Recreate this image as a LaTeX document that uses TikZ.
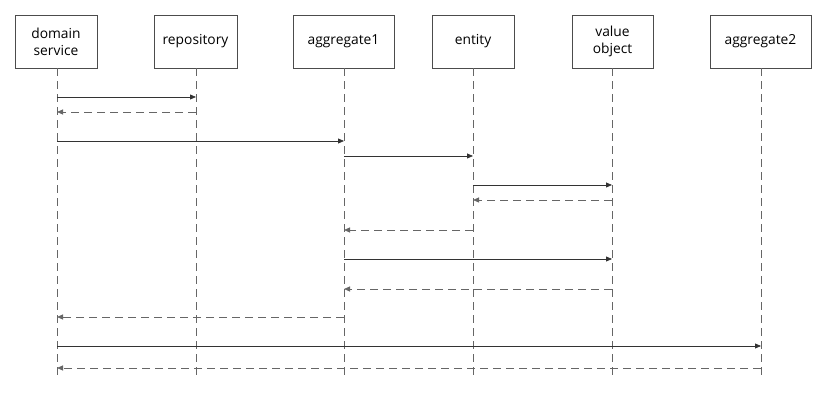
\documentclass[tikz,border=0pt]{standalone}
\usepackage{fontspec}
\setmainfont{Open Sans}
\usetikzlibrary{arrows.meta}
\begin{document}
\begin{tikzpicture}[x=1pt,y=-1pt,
  actor/.style={draw=black!70,line width=0.8pt,minimum height=53pt,inner sep=0pt,align=center,font=\fontsize{13.8}{17}\selectfont,text=black},
  life/.style={draw=black!60,line width=0.8pt,dash pattern=on 8pt off 5pt},
  call/.style={draw=black!80,line width=0.75pt,-{Triangle[length=6pt,width=5pt]}},
  ret/.style={draw=black!60,line width=0.8pt,dash pattern=on 8pt off 5pt,-{Triangle[length=6pt,width=5pt]}}]
\useasboundingbox (0,0) rectangle (830,403);
\node[actor,minimum width=82pt] (ds) at (56,41.5) {domain\\service};
\node[actor,minimum width=83pt] (rp) at (195.5,41.5) {repository};
\node[actor,minimum width=101pt] (a1) at (343.5,41.5) {aggregate1};
\node[actor,minimum width=82pt] (en) at (473,41.5) {entity};
\node[actor,minimum width=81pt] (vo) at (612.5,41.5) {value\\object};
\node[actor,minimum width=101pt] (a2) at (760.5,41.5) {aggregate2};
\foreach \n/\x in {ds/57,rp/196,a1/344,en/473,vo/612,a2/761}{
  \coordinate (\n-e) at (\x,380);
  \draw[life] (\n.south -| \n-e) -- (\n-e);
  \foreach \y in {97,112,141,156,185,200,230,259,289,317,346,368}{
    \coordinate (\n-\y) at (\x,\y);
  }
}
\draw[call] (ds-97) -- (rp-97);
\draw[ret] (rp-112) -- (ds-112);
\draw[call] (ds-141) -- (a1-141);
\draw[call] (a1-156) -- (en-156);
\draw[call] (en-185) -- (vo-185);
\draw[ret] (vo-200) -- (en-200);
\draw[ret] (en-230) -- (a1-230);
\draw[call] (a1-259) -- (vo-259);
\draw[ret] (vo-289) -- (a1-289);
\draw[ret] (a1-317) -- (ds-317);
\draw[call] (ds-346) -- (a2-346);
\draw[ret] (a2-368) -- (ds-368);
\end{tikzpicture}
\end{document}
